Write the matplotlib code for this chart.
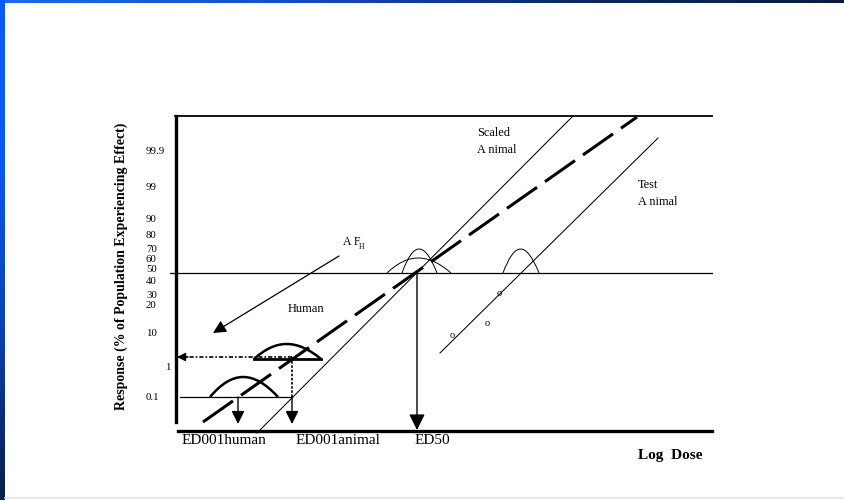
import numpy as np
import matplotlib
matplotlib.use("Agg")
import matplotlib.pyplot as plt
from matplotlib.path import Path
from matplotlib.patches import PathPatch
from matplotlib.colors import LinearSegmentedColormap

plt.rcParams['font.family'] = ['Liberation Serif', 'DejaVu Serif']

# Diagram geometry (drawn in a 844 x 500 canvas, y grows downward)
# y-axis response levels and where they sit on the probit-like scale
tick_labels = ['99.9', '99', '90', '80', '70', '60', '50', '40', '30', '20', '10', '1', '0.1']
tick_y = [152, 187, 219, 236, 250, 259, 270, 282, 296, 305, 333, 368, 397]
tick_x = [146, 146, 146, 146, 146, 146, 146, 146, 146, 146, 146, 165, 146]

# dose-response lines (log dose vs response)
human_x = [203, 637]
human_y = [422, 117]
scaled_x = [257, 573]
scaled_y = [433, 116]
test_x = [440, 658]
test_y = [353, 138]

# test animal data points
obs_x = [452, 487, 499]
obs_y = [335, 324, 294]

# response distributions: left, right, base, top
human_bells = [(210, 278, 397, 377), (254, 321, 359, 344)]
animal_bells = [(387, 451, 273, 258), (402, 437, 273, 249), (503, 539, 273, 249)]

# reference levels
level_50 = 273
level_1 = 359
level_01 = 397
ed001_human = 238
ed001_animal = 292
ed50 = 417

fig = plt.figure(figsize=(8.44, 5), dpi=100)
ax = fig.add_axes([0, 0, 1, 1])
ax.axis('off')

# slide frame
top_cmap = LinearSegmentedColormap.from_list('top', ['#1a6af5', '#1250c8', '#0b2a66', '#0a1a40'])
left_cmap = LinearSegmentedColormap.from_list('left', ['#0a5cff', '#0a58f0', '#0a40b0', '#0a1c48'])
ax.imshow(np.linspace(0, 1, 256)[np.newaxis, :], extent=(0, 844, 3.5, 0), cmap=top_cmap, aspect='auto')
ax.imshow(np.linspace(0, 1, 256)[:, np.newaxis], extent=(0, 4.5, 500, 0), cmap=left_cmap, aspect='auto')
ax.plot([5, 844], [497.5, 497.5], color='#e4e4e4', lw=1.2)
ax.set_xlim(0, 844)
ax.set_ylim(500, 0)

# frame of the plot
ax.plot([175, 712], [116, 116], color='black', lw=1.3)
ax.plot([175.5, 175.5], [116, 422], color='black', lw=2.4)
ax.plot([178, 712], [431, 431], color='black', lw=2.4)
ax.plot([170, 712], [level_50, level_50], color='black', lw=0.9)

for lab, x, y in zip(tick_labels, tick_x, tick_y):
    ax.text(x, y, lab, fontsize=7.8, ha='left', va='center')

ax.text(121, 266, 'Response (% of Population Experiencing Effect)', rotation=90,
        fontsize=10, fontweight='bold', ha='center', va='center')

# dose-response lines
ax.plot(human_x, human_y, color='black', lw=2.2, dashes=(12, 3.2), solid_capstyle='butt')
ax.plot(scaled_x, scaled_y, color='black', lw=0.75)
ax.plot(test_x, test_y, color='black', lw=0.75)

for x, y in zip(obs_x, obs_y):
    ax.text(x, y, 'o', fontsize=7.5, ha='center', va='center')


def bell(left, right, base, top, lw):
    w = right - left
    h = (base - top) / 0.75
    verts = [(left, base), (left + 0.33 * w, base - h), (right - 0.36 * w, base - h), (right, base)]
    codes = [Path.MOVETO, Path.CURVE4, Path.CURVE4, Path.CURVE4]
    ax.add_patch(PathPatch(Path(verts, codes), fill=False, lw=lw, color='black'))


for b in human_bells:
    bell(*b, lw=1.8)
for b in animal_bells:
    bell(*b, lw=0.7)

# reference level lines
ax.plot([180, ed001_animal], [level_01, level_01], color='black', lw=0.9)
ax.plot([254, 321], [level_1, level_1], color='black', lw=2.0)
ax.plot([ed001_animal, 185], [357, 357], color='black', lw=1.2, dashes=(2.5, 1.2, 1, 1.2))
ax.plot([ed001_animal, ed001_animal], [357, level_01], color='black', lw=1.2, dashes=(1.5, 1))
ax.annotate('', xy=(177, 357), xytext=(188, 357),
            arrowprops=dict(arrowstyle='-|>,head_length=0.5,head_width=0.25', mutation_scale=10,
                            color='black', lw=1.0, shrinkA=0, shrinkB=0))

# arrows down to dose axis
for x, y0, tip, ms in [(ed001_human, level_01, 424, 13), (ed001_animal, level_01, 424, 13),
                       (ed50, level_50, 430, 16)]:
    ax.annotate('', xy=(x, tip), xytext=(x, y0),
                arrowprops=dict(arrowstyle='-|>,head_length=0.6,head_width=0.3', mutation_scale=ms,
                                color='black', lw=1.0, shrinkA=0, shrinkB=0))

# adjustment factor arrow
ax.annotate('', xy=(213, 333), xytext=(339, 256),
            arrowprops=dict(arrowstyle='-|>,head_length=0.6,head_width=0.3', mutation_scale=13,
                            color='black', lw=0.9, shrinkA=0, shrinkB=0))
ax.text(343, 242, 'A F', fontsize=8.5, ha='left', va='center')
ax.text(359, 247, 'H', fontsize=5.5, ha='left', va='center')

# labels
ax.text(306, 309, 'Human', fontsize=9, ha='center', va='center')
ax.text(477, 133, 'Scaled', fontsize=8.8, ha='left', va='center')
ax.text(477, 150, 'A nimal', fontsize=8.8, ha='left', va='center')
ax.text(638, 185, 'Test', fontsize=8.8, ha='left', va='center')
ax.text(638, 202, 'A nimal', fontsize=8.8, ha='left', va='center')

ax.text(182, 441, 'ED001human', fontsize=11, ha='left', va='center')
ax.text(296, 441, 'ED001animal', fontsize=11, ha='left', va='center')
ax.text(415, 441, 'ED50', fontsize=11, ha='left', va='center')
ax.text(638, 455, 'Log  Dose', fontsize=11, fontweight='bold', ha='left', va='center')

fig.savefig('out.png', dpi=100)
